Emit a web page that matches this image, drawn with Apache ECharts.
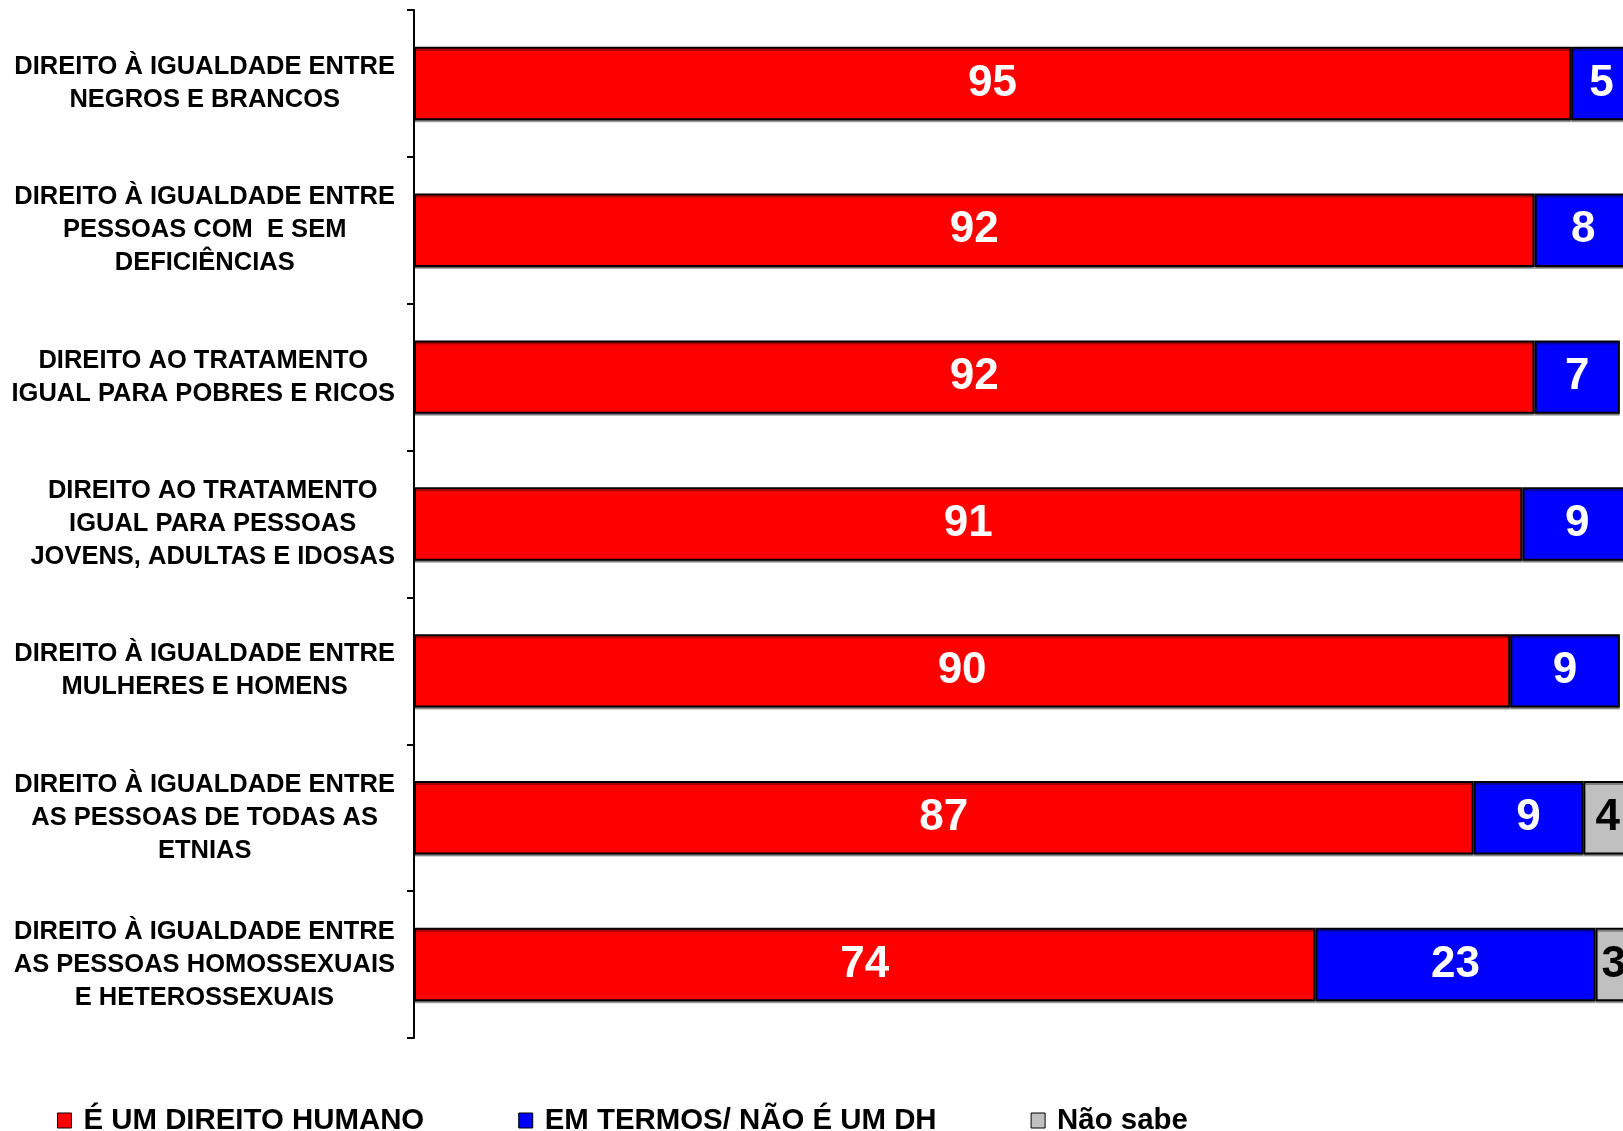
<!DOCTYPE html>
<html>
<head>
<meta charset="utf-8">
<script src="https://cdn.jsdelivr.net/npm/echarts@6/dist/echarts.min.js"></script>
<style>
html,body{margin:0;padding:0;background:#fff;}
#chart{width:1623px;height:1131px;}
</style>
</head>
<body>
<div id="chart"></div>
<script>
const categories = [
  "DIREITO À IGUALDADE ENTRE\nNEGROS E BRANCOS",
  "DIREITO À IGUALDADE ENTRE\nPESSOAS COM  E SEM\nDEFICIÊNCIAS",
  "DIREITO AO TRATAMENTO\nIGUAL PARA POBRES E RICOS",
  "DIREITO AO TRATAMENTO\nIGUAL PARA PESSOAS\nJOVENS, ADULTAS E IDOSAS",
  "DIREITO À IGUALDADE ENTRE\nMULHERES E HOMENS",
  "DIREITO À IGUALDADE ENTRE\nAS PESSOAS DE TODAS AS\nETNIAS",
  "DIREITO À IGUALDADE ENTRE\nAS PESSOAS HOMOSSEXUAIS\nE HETEROSSEXUAIS"
];
const seriesNames = ["É UM DIREITO HUMANO", "EM TERMOS/ NÃO É UM DH", "Não sabe"];
const eUmDireito = [95, 92, 92, 91, 90, 87, 74];
const emTermos   = [5, 8, 7, 9, 9, 9, 23];
const naoSabe    = [null, null, null, null, null, 4, 3];

const FONT = "'Liberation Sans', Arial, sans-serif";
const colors = ["#FF0000", "#0000FF", "#C0C0C0"];
const labelColors = ["#FFFFFF", "#FFFFFF", "#000000"];

function makeSeries(name, data, idx) {
  return {
    name: name,
    type: "bar",
    stack: "total",
    barWidth: "50%",
    clip: false,
    data: data,
    itemStyle: {
      color: colors[idx],
      borderColor: "#000",
      borderWidth: 2,
      shadowColor: "rgba(0,0,0,0.35)",
      shadowOffsetY: 2,
      shadowBlur: 0
    },
    label: {
      show: true,
      position: "inside",
      color: labelColors[idx],
      fontFamily: FONT,
      fontWeight: "bold",
      fontSize: 44,
      formatter: function (p) { return p.value == null ? "" : String(p.value); }
    }
  };
}

const chart = echarts.init(document.getElementById("chart"), null, { renderer: "canvas" });
chart.setOption({
  animation: false,
  backgroundColor: "#fff",
  grid: { left: 414, top: 10, right: 0, height: 1028, containLabel: false },
  xAxis: { type: "value", min: 0, max: 99.26, show: false },
  yAxis: {
    type: "category",
    inverse: true,
    data: categories,
    axisLine: { show: true, lineStyle: { color: "#000", width: 2 } },
    axisTick: { show: true, length: 7, lineStyle: { color: "#000", width: 2 } },
    axisLabel: {
      margin: 19,
      formatter: function (v) {
        return v.split("\n").map(function (l) { return "{c|" + l + "}"; }).join("\n");
      },
      rich: {
        c: {
          align: "center",
          fontFamily: FONT,
          fontWeight: "bold",
          fontSize: 25.5,
          lineHeight: 33,
          color: "#000"
        }
      }
    },
    splitLine: { show: false }
  },
  legend: {
    left: 57,
    top: 1106,
    padding: 0,
    itemGap: 94,
    itemWidth: 14,
    itemHeight: 15,
    icon: "rect",
    itemStyle: { borderColor: "#000", borderWidth: 1, shadowOffsetY: 0, shadowColor: "transparent" },
    textStyle: {
      fontFamily: FONT,
      fontWeight: "bold",
      fontSize: 29.4,
      color: "#000",
      padding: [0, 0, 0, 7]
    },
    data: seriesNames
  },
  series: [
    makeSeries(seriesNames[0], eUmDireito, 0),
    makeSeries(seriesNames[1], emTermos, 1),
    makeSeries(seriesNames[2], naoSabe, 2)
  ]
});
</script>
</body>
</html>
